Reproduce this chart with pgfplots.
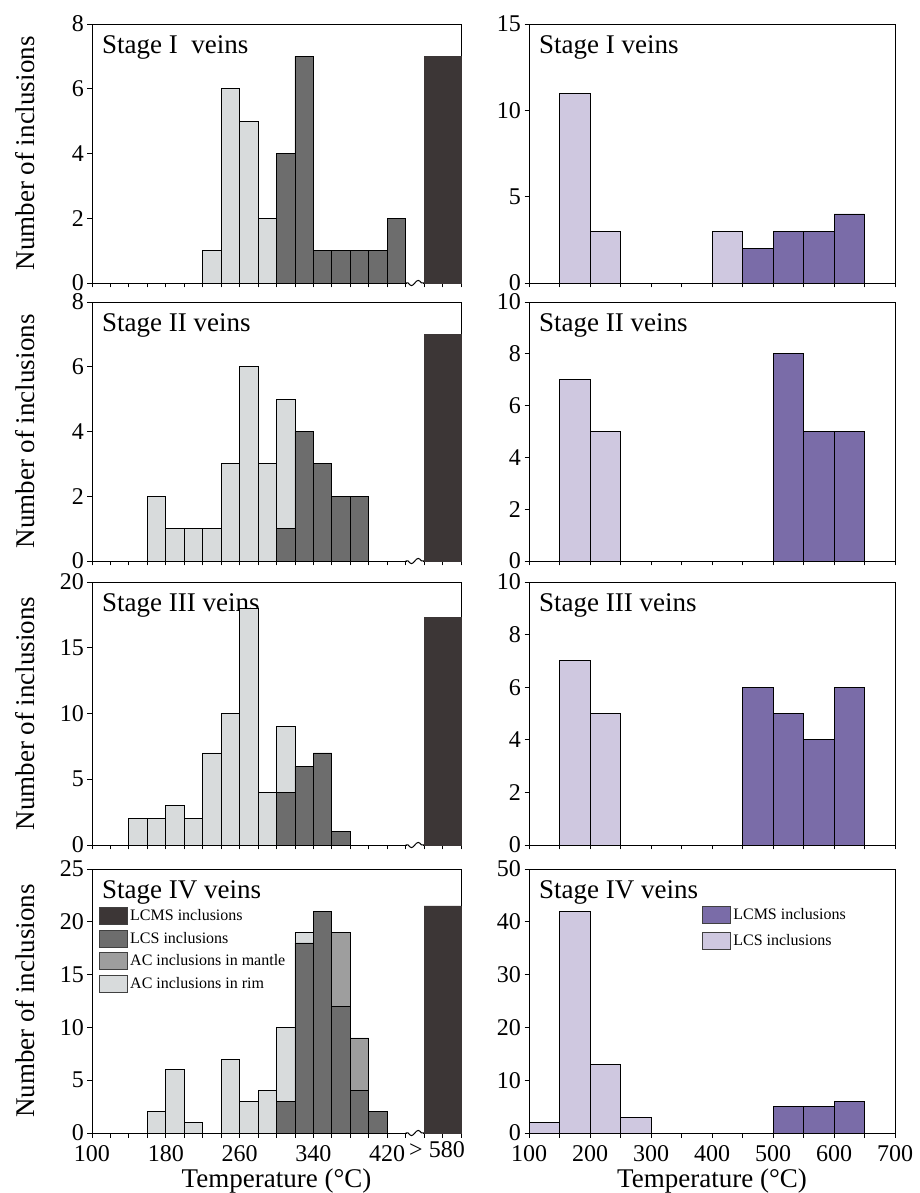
\documentclass[border=0pt]{standalone}
\usepackage{fontspec}
\setmainfont{Liberation Serif}
\usepackage{pgfplots}
\usepackage{pgfplotstable}
\pgfplotsset{compat=1.18}
\definecolor{lcms}{RGB}{60,54,54}
\definecolor{lcs}{RGB}{109,109,109}
\definecolor{mantle}{RGB}{158,158,158}
\definecolor{rim}{RGB}{216,219,220}
\definecolor{plcms}{RGB}{122,108,168}
\definecolor{plcs}{RGB}{207,200,224}

\tikzset{ttl/.style={anchor=north west, font=\fontsize{27}{27}\selectfont, inner sep=2pt, xshift=8pt, yshift=-9pt}}

\pgfplotsset{
  boxleg/.style={legend image code/.code={\draw[line width=1pt, draw=black!75, ##1] (0pt,-8.5pt) rectangle (28pt,8.5pt);}},
  common/.style={
    scale only axis, clip=false,
    ybar stacked, ymin=0,
    enlargelimits=false,
    tick align=outside, xtick pos=left, ytick pos=left,
    major tick length=4.5pt,
    axis line style={line width=0.9pt},
    every tick/.style={black, line width=0.8pt},
    /pgf/number format/assume math mode=true,
    tick label style={font=\fontsize{24}{24}\selectfont},
    xticklabel style={yshift=-5pt},
    label style={font=\fontsize{27}{27}\selectfont},
    every axis plot/.append style={draw=black, line width=0.8pt},
  },
  leftp/.style={common, width=369pt, xmin=100, xmax=500, xtick={100,120,...,500}, bar width=20, xticklabels={},
    ylabel={Number of inclusions},
    ylabel style={at={(axis description cs:-0.182,0.5)}, anchor=center}},
  rightp/.style={common, width=366pt, xmin=100, xmax=700, xtick={100,150,...,700}, bar width=50, xticklabels={}},
  xlab/.style={xlabel style={at={(axis description cs:0.5,0)}, anchor=north, inner sep=0pt, yshift=-36pt}},
}

% axis break: drawn after each left axis from a named point at x=440, y=0
\newcommand{\brk}[1]{%
  \draw[white, line width=3.5pt] (#1) ++(1.5pt,0) -- ++(15.4pt,0);
  \draw[line width=1pt] (#1) -- ++(2.5pt,0) sin ++(3.35pt,-2.6pt) cos ++(3.35pt,2.6pt) sin ++(3.35pt,2.6pt) cos ++(3.35pt,-2.6pt) -- ++(2.55pt,0);
}

\pgfplotstableread{
x lcs rim lcms
110 0 0 0
130 0 0 0
150 0 0 0
170 0 0 0
190 0 0 0
210 0 0 0
230 0 1 0
250 0 6 0
270 0 5 0
290 0 2 0
310 4 0 0
330 7 0 0
350 1 0 0
370 1 0 0
390 1 0 0
410 1 0 0
430 2 0 0
470 0 0 7
490 0 0 7
}\Lone

\pgfplotstableread{
x lcs rim lcms
110 0 0 0
130 0 0 0
150 0 0 0
170 0 2 0
190 0 1 0
210 0 1 0
230 0 1 0
250 0 3 0
270 0 6 0
290 0 3 0
310 1 4 0
330 4 0 0
350 3 0 0
370 2 0 0
390 2 0 0
410 0 0 0
430 0 0 0
470 0 0 7
490 0 0 7
}\Ltwo

\pgfplotstableread{
x lcs rim lcms
110 0 0 0
130 0 0 0
150 0 2 0
170 0 2 0
190 0 3 0
210 0 2 0
230 0 7 0
250 0 10 0
270 0 18 0
290 0 4 0
310 4 5 0
330 6 0 0
350 7 0 0
370 1 0 0
390 0 0 0
410 0 0 0
430 0 0 0
470 0 0 17.3
490 0 0 17.3
}\Lthree

\pgfplotstableread{
x lcs mantle rim lcms
110 0 0 0 0
130 0 0 0 0
150 0 0 0 0
170 0 0 2 0
190 0 0 6 0
210 0 0 1 0
230 0 0 0 0
250 0 0 7 0
270 0 0 3 0
290 0 0 4 0
310 3 0 7 0
330 18 0 1 0
350 21 0 0 0
370 12 7 0 0
390 4 5 0 0
410 2 0 0 0
430 0 0 0 0
470 0 0 0 21.5
490 0 0 0 21.5
}\Lfour

\pgfplotstableread{
x lcs lcms
125 0 0
175 11 0
225 3 0
275 0 0
325 0 0
375 0 0
425 3 0
475 0 2
525 0 3
575 0 3
625 0 4
675 0 0
}\Rone

\pgfplotstableread{
x lcs lcms
125 0 0
175 7 0
225 5 0
275 0 0
325 0 0
375 0 0
425 0 0
475 0 0
525 0 8
575 0 5
625 0 5
675 0 0
}\Rtwo

\pgfplotstableread{
x lcs lcms
125 0 0
175 7 0
225 5 0
275 0 0
325 0 0
375 0 0
425 0 0
475 0 6
525 0 5
575 0 4
625 0 6
675 0 0
}\Rthree

\pgfplotstableread{
x lcs lcms
125 2 0
175 42 0
225 13 0
275 3 0
325 0 0
375 0 0
425 0 0
475 0 0
525 0 5
575 0 5
625 0 6
675 0 0
}\Rfour

\begin{document}
\begin{tikzpicture}
\useasboundingbox (0,0) rectangle (919pt,1193pt);

% ---------- Left column ----------
\begin{axis}[leftp, at={(92pt,910pt)}, anchor=south west, height=259pt, ymax=8, ytick={0,2,...,8}]
\addplot[fill=lcs] table[x=x,y=lcs]{\Lone};
\addplot[fill=rim] table[x=x,y=rim]{\Lone};
\addplot[fill=lcms, draw=lcms] table[x=x,y=lcms]{\Lone};
\coordinate (b1) at (axis cs:440,0);
\node[ttl] at (rel axis cs:0,1) {Stage I\ \ veins};
\end{axis}
\brk{b1}

\begin{axis}[leftp, at={(92pt,632pt)}, anchor=south west, height=259pt, ymax=8, ytick={0,2,...,8}]
\addplot[fill=lcs] table[x=x,y=lcs]{\Ltwo};
\addplot[fill=rim] table[x=x,y=rim]{\Ltwo};
\addplot[fill=lcms, draw=lcms] table[x=x,y=lcms]{\Ltwo};
\coordinate (b2) at (axis cs:440,0);
\node[ttl] at (rel axis cs:0,1) {Stage II veins};
\end{axis}
\brk{b2}

\begin{axis}[leftp, at={(92pt,348pt)}, anchor=south west, height=263pt, ymax=20, ytick={0,5,...,20}]
\addplot[fill=lcs] table[x=x,y=lcs]{\Lthree};
\addplot[fill=rim] table[x=x,y=rim]{\Lthree};
\addplot[fill=lcms, draw=lcms] table[x=x,y=lcms]{\Lthree};
\coordinate (b3) at (axis cs:440,0);
\node[ttl] at (rel axis cs:0,1) {Stage III veins};
\end{axis}
\brk{b3}

\begin{axis}[leftp, xlab, at={(92pt,60pt)}, anchor=south west, height=264pt, ymax=25, ytick={0,5,...,25},
  xticklabels={100,,,,180,,,,260,,,,340,,,,420,,,,},
  extra x ticks={474}, extra x tick labels={> 580}, extra x tick style={major tick length=0pt},
  xlabel={Temperature (°C)},
  legend style={at={(rel axis cs:0,1)}, anchor=north west, xshift=7pt, yshift=-38pt, draw=none, fill=none,
    font=\fontsize{16}{16}\selectfont, row sep=4.5pt, inner sep=0pt,
    /tikz/every even column/.append style={column sep=3pt}},
  legend cell align=left]
\addlegendimage{boxleg, fill=lcms}
\addlegendentry{LCMS inclusions}
\addlegendimage{boxleg, fill=lcs}
\addlegendentry{LCS inclusions}
\addlegendimage{boxleg, fill=mantle}
\addlegendentry{AC inclusions in mantle}
\addlegendimage{boxleg, fill=rim}
\addlegendentry{AC inclusions in rim}
\addplot[fill=lcs] table[x=x,y=lcs]{\Lfour};
\addplot[fill=mantle] table[x=x,y=mantle]{\Lfour};
\addplot[fill=rim] table[x=x,y=rim]{\Lfour};
\addplot[fill=lcms, draw=lcms] table[x=x,y=lcms]{\Lfour};
\coordinate (b4) at (axis cs:440,0);
\node[ttl] at (rel axis cs:0,1) {Stage IV veins};
\end{axis}
\brk{b4}

% ---------- Right column ----------
\begin{axis}[rightp, at={(529pt,910pt)}, anchor=south west, height=259pt, ymax=15, ytick={0,5,...,15}]
\addplot[fill=plcs] table[x=x,y=lcs]{\Rone};
\addplot[fill=plcms] table[x=x,y=lcms]{\Rone};
\node[ttl] at (rel axis cs:0,1) {Stage I veins};
\end{axis}

\begin{axis}[rightp, at={(529pt,632pt)}, anchor=south west, height=259pt, ymax=10, ytick={0,2,...,10}]
\addplot[fill=plcs] table[x=x,y=lcs]{\Rtwo};
\addplot[fill=plcms] table[x=x,y=lcms]{\Rtwo};
\node[ttl] at (rel axis cs:0,1) {Stage II veins};
\end{axis}

\begin{axis}[rightp, at={(529pt,348pt)}, anchor=south west, height=263pt, ymax=10, ytick={0,2,...,10}]
\addplot[fill=plcs] table[x=x,y=lcs]{\Rthree};
\addplot[fill=plcms] table[x=x,y=lcms]{\Rthree};
\node[ttl] at (rel axis cs:0,1) {Stage III veins};
\end{axis}

\begin{axis}[rightp, xlab, at={(529pt,60pt)}, anchor=south west, height=264pt, ymax=50, ytick={0,10,...,50},
  xticklabels={100,,200,,300,,400,,500,,600,,700},
  xlabel={Temperature (°C)},
  legend style={at={(rel axis cs:0.473,1)}, anchor=north west, yshift=-37pt, draw=none, fill=none,
    font=\fontsize{16}{16}\selectfont, row sep=8pt, inner sep=0pt,
    /tikz/every even column/.append style={column sep=3pt}},
  legend cell align=left]
\addlegendimage{boxleg, fill=plcms}
\addlegendentry{LCMS inclusions}
\addlegendimage{boxleg, fill=plcs}
\addlegendentry{LCS inclusions}
\addplot[fill=plcs] table[x=x,y=lcs]{\Rfour};
\addplot[fill=plcms] table[x=x,y=lcms]{\Rfour};
\node[ttl] at (rel axis cs:0,1) {Stage IV veins};
\end{axis}

\end{tikzpicture}
\end{document}
